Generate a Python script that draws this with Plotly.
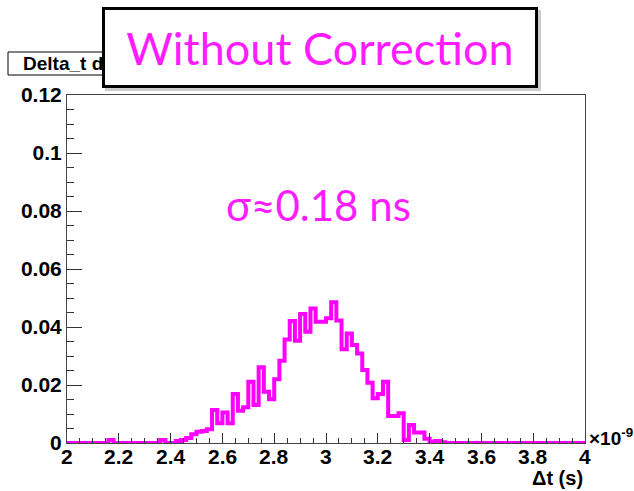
import numpy as np
import plotly.graph_objects as go

# Histogram binning (time difference in units of 1e-9 s)
bin_low = 2.0
bin_high = 4.0
n_bins = 100

# Normalised bin contents, one value per bin
fraction = [
    0, 0, 0, 0, 0, 0, 0, 0, 0.001, 0,
    0, 0, 0, 0, 0, 0, 0, 0, 0.001, 0,
    0, 0.0007, 0.001, 0.0017, 0.003, 0.0039, 0.0041, 0.0047, 0.0114, 0.0068,
    0.0105, 0.0068, 0.0169, 0.0111, 0.0123, 0.0211, 0.0131, 0.0261, 0.0177, 0.0151,
    0.0220, 0.0284, 0.0357, 0.0421, 0.0353, 0.0445, 0.0384, 0.0464, 0.0418, 0.0418,
    0.0430, 0.0485, 0.0422, 0.0323, 0.0378, 0.0338, 0.0309, 0.0252, 0.0208, 0.0154,
    0.0169, 0.0211, 0.0093, 0.0093, 0.0103, 0.001, 0.0062, 0.0036, 0.0036, 0.0015,
    0.0003, 0.0007, 0.0003, 0, 0, 0, 0, 0, 0, 0,
    0, 0, 0, 0, 0, 0, 0, 0, 0, 0,
    0, 0, 0, 0, 0, 0, 0, 0, 0, 0,
]

# Axis tick positions
x_ticks = [2.0, 2.2, 2.4, 2.6, 2.8, 3.0, 3.2, 3.4, 3.6, 3.8, 4.0]
y_ticks = [0, 0.02, 0.04, 0.06, 0.08, 0.1, 0.12]

hist_title = "Delta_t distribution"
overlay_text = "Without Correction"
sigma_text = "σ≈0.18 ns"
x_title = "Δt (s)"
x_exponent = "×10<sup>-9</sup>"

MAGENTA = "#FF00FF"
TEXT_MAGENTA = "#FF1CFF"
BOLD_FONT = "Liberation Sans, Arial, sans-serif"

W, H = 634, 491
ML, MR, MT, MB = 67, 49, 95, 48
PW, PH = W - ML - MR, H - MT - MB


def px(xp):
    return (xp - ML) / PW


def py(yp):
    return (H - MB - yp) / PH


edges = np.linspace(bin_low, bin_high, n_bins + 1)
x_step = list(edges)
y_step = list(fraction) + [fraction[-1]]

fig = go.Figure()
fig.add_trace(go.Scatter(
    x=x_step, y=y_step, mode="lines",
    line=dict(shape="hv", color=MAGENTA, width=4),
    hoverinfo="skip", showlegend=False,
))

tick_font = dict(family=BOLD_FONT, size=21, color="black", weight="bold")

fig.update_xaxes(
    range=[bin_low, bin_high], tickvals=x_ticks, showticklabels=False,
    ticks="inside", ticklen=10, tickwidth=1, tickcolor="#333",
    minor=dict(ticks="inside", ticklen=5, dtick=0.05, tick0=2,
               tickcolor="#333", tickwidth=1),
    showline=True, linecolor="#444", linewidth=1, mirror=True,
    showgrid=False, zeroline=False,
)
fig.update_yaxes(
    range=[0, 0.12], tickvals=y_ticks,
    ticks="inside", ticklen=15, tickwidth=1, tickcolor="#333",
    minor=dict(ticks="inside", ticklen=7, dtick=0.005, tick0=0,
               tickcolor="#333", tickwidth=1),
    showline=True, linecolor="#444", linewidth=1, mirror=True,
    showgrid=False, zeroline=False, tickfont=tick_font,
)

shapes = [
    # histogram title box
    dict(type="rect", xref="paper", yref="paper",
         x0=px(8), x1=px(230), y0=py(75), y1=py(52),
         line=dict(color="black", width=1), fillcolor="white", layer="above"),
    # soft shadow behind the overlay label
    dict(type="rect", xref="paper", yref="paper",
         x0=px(105), x1=px(541), y0=py(91), y1=py(10),
         line=dict(width=0), fillcolor="rgba(0,0,0,0.2)", layer="above"),
]

annotations = []
# x tick labels, placed just under the axis
for v in x_ticks:
    annotations.append(dict(
        text=f"{v:g}", xref="x", yref="paper", x=v, y=py(457),
        xanchor="center", yanchor="middle", showarrow=False,
        font=tick_font,
    ))

annotations += [
    dict(text=hist_title, xref="paper", yref="paper", x=px(21), y=py(63.5),
         xanchor="left", yanchor="middle", showarrow=False,
         font=dict(family=BOLD_FONT, size=19, color="black", weight="bold")),
    dict(text=overlay_text, xref="paper", yref="paper",
         x=px(320), y=py(47.5), xanchor="center", yanchor="middle",
         showarrow=False, width=430, height=75, align="center", valign="middle",
         bgcolor="white", bordercolor="black", borderwidth=3, borderpad=0,
         font=dict(family="Lato, Noto Sans, sans-serif", size=45, color=TEXT_MAGENTA)),
    dict(text=sigma_text, xref="paper", yref="paper", x=px(318), y=py(205),
         xanchor="center", yanchor="middle", showarrow=False,
         font=dict(family="Lato, Noto Sans, sans-serif", size=42, color=TEXT_MAGENTA)),
    dict(text=x_title, xref="paper", yref="paper", x=1, y=py(478),
         xanchor="right", yanchor="middle", showarrow=False,
         font=dict(family=BOLD_FONT, size=20, color="black", weight="bold")),
    dict(text=x_exponent, xref="paper", yref="paper", x=px(587), y=py(437),
         xanchor="left", yanchor="middle", showarrow=False,
         font=dict(family=BOLD_FONT, size=19, color="black", weight="bold")),
]

fig.update_layout(
    width=W, height=H,
    margin=dict(l=ML, r=MR, t=MT, b=MB, pad=0),
    paper_bgcolor="white", plot_bgcolor="white",
    shapes=shapes, annotations=annotations,
    showlegend=False,
)

fig.write_html("out.html")
